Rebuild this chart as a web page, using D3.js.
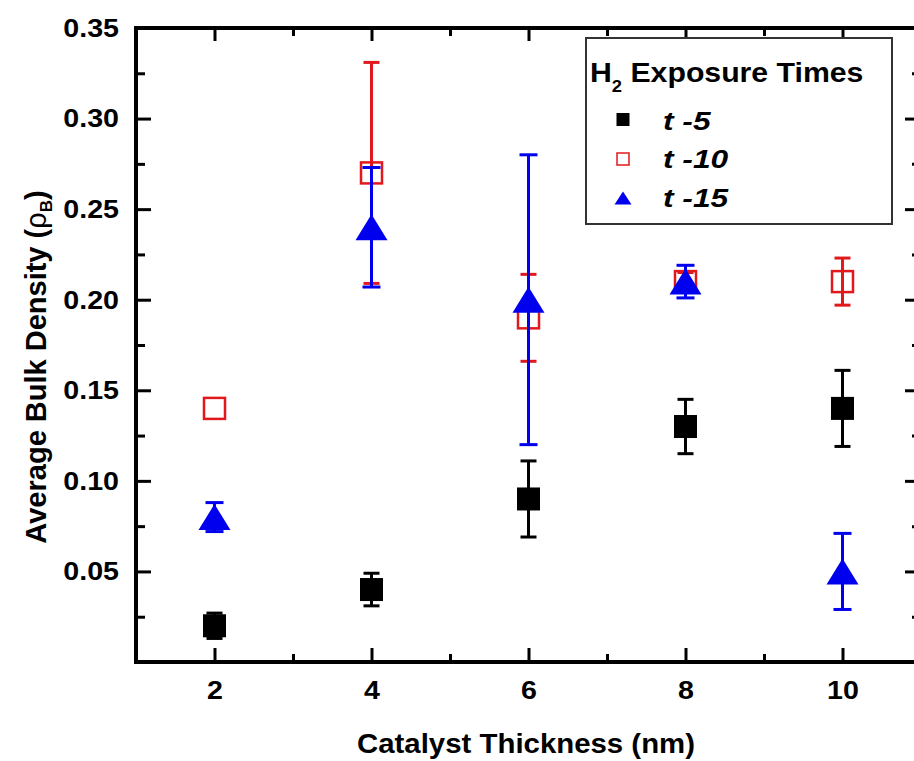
<!DOCTYPE html>
<html>
<head>
<meta charset="utf-8">
<script src="https://cdn.jsdelivr.net/npm/d3@7"></script>
<style>
  html, body { margin: 0; padding: 0; background: #fff; }
  svg { display: block; }
  text { font-family: "Liberation Sans", Arial, sans-serif; font-weight: bold; fill: #000; }
</style>
</head>
<body>
<svg id="chart" width="914" height="761"></svg>
<script>
// ---- data ----
const thickness = [2, 4, 6, 8, 10];
const t5 = [0.02, 0.04, 0.09, 0.13, 0.14];
const t5err = [0.007, 0.009, 0.021, 0.015, 0.021];
const t10 = [0.14, 0.27, 0.19, 0.21, 0.21];
const t10err = [0, 0.061, 0.024, 0.005, 0.013];
const t15 = [0.08, 0.24, 0.20, 0.21, 0.05];
const t15err = [0.008, 0.033, 0.08, 0.009, 0.021];
const xTicks = [2, 4, 6, 8, 10];
const xMinor = [3, 5, 7, 9];
const yTicks = [0.05, 0.10, 0.15, 0.20, 0.25, 0.30, 0.35];
const yTickLabels = ["0.05", "0.10", "0.15", "0.20", "0.25", "0.30", "0.35"];
const yMinor = [0.025, 0.075, 0.125, 0.175, 0.225, 0.275, 0.325];
const legendTitle = "Exposure Times";
const seriesNames = ["t -5", "t -10", "t -15"];
const xTitle = "Catalyst Thickness (nm)";
const yTitle = "Average Bulk Density (";

const svg = d3.select("#chart");
const L = 136, R = 921, T = 28, B = 662;
const x = d3.scaleLinear().domain([1, 11]).range([L, R]);
const y = d3.scaleLinear().domain([0, 0.35]).range([B, T]);

const RED = "#e2191c", BLUE = "#0000ee", BLACK = "#000";

// ---- axes ----
function styleAxis(g, sx) {
  g.select(".domain").remove();
  g.selectAll(".tick line").attr("stroke", "#000").attr("stroke-width", 3);
  g.selectAll(".tick text").style("font-size", "26px").each(function () {
    const t = d3.select(this);
    const xx = +t.attr("x") || 0;
    t.attr("x", 0).attr("transform", `translate(${xx},0) scale(${sx},1)`);
  });
}
// bottom
svg.append("g").attr("transform", `translate(0,${B})`)
  .call(d3.axisBottom(x).tickValues(xTicks).tickSize(-14).tickPadding(19).tickFormat(d3.format("d")))
  .call(g => styleAxis(g, 1.1));
svg.append("g").attr("transform", `translate(0,${B})`)
  .call(d3.axisBottom(x).tickValues(xMinor).tickSize(-8).tickFormat(""))
  .call(g => styleAxis(g, 1));
// top
svg.append("g").attr("transform", `translate(0,${T})`)
  .call(d3.axisTop(x).tickValues(xTicks).tickSize(-13).tickFormat(""))
  .call(g => styleAxis(g, 1));
svg.append("g").attr("transform", `translate(0,${T})`)
  .call(d3.axisTop(x).tickValues(xMinor).tickSize(-8).tickFormat(""))
  .call(g => styleAxis(g, 1));
// left
svg.append("g").attr("transform", `translate(${L},0)`)
  .call(d3.axisLeft(y).tickValues(yTicks).tickSize(-15).tickPadding(17).tickFormat((d, i) => yTickLabels[i]))
  .call(g => styleAxis(g, 1.1));
svg.append("g").attr("transform", `translate(${L},0)`)
  .call(d3.axisLeft(y).tickValues(yMinor).tickSize(-9).tickFormat(""))
  .call(g => styleAxis(g, 1));
// right
svg.append("g").attr("transform", `translate(${R},0)`)
  .call(d3.axisRight(y).tickValues(yTicks).tickSize(-16).tickFormat(""))
  .call(g => styleAxis(g, 1));
svg.append("g").attr("transform", `translate(${R},0)`)
  .call(d3.axisRight(y).tickValues(yMinor).tickSize(-9).tickFormat(""))
  .call(g => styleAxis(g, 1));

// frame
svg.append("rect").attr("x", L).attr("y", T).attr("width", R - L).attr("height", B - T)
  .attr("fill", "none").attr("stroke", "#000").attr("stroke-width", 4);

// ---- series ----
function errorBars(vals, errs, color, capW) {
  const g = svg.append("g").attr("stroke", color).attr("stroke-width", 3).attr("fill", "none");
  thickness.forEach((t, i) => {
    if (!errs[i]) return;
    const cx = x(t), y1 = y(vals[i] + errs[i]), y2 = y(vals[i] - errs[i]);
    g.append("line").attr("x1", cx).attr("x2", cx).attr("y1", y1).attr("y2", y2);
    g.append("line").attr("x1", cx - capW / 2).attr("x2", cx + capW / 2).attr("y1", y1).attr("y2", y1);
    g.append("line").attr("x1", cx - capW / 2).attr("x2", cx + capW / 2).attr("y1", y2).attr("y2", y2);
  });
}
const triPath = (w, h) => `M0,${-h / 2}L${w / 2},${h / 2}L${-w / 2},${h / 2}Z`;

// t-5 black squares
errorBars(t5, t5err, BLACK, 16);
svg.append("g").selectAll("rect").data(thickness).join("rect")
  .attr("x", (d) => x(d) - 11.5).attr("y", (d, i) => y(t5[i]) - 11.5)
  .attr("width", 23).attr("height", 23).attr("fill", BLACK);

// t-10 red open squares
errorBars(t10, t10err, RED, 16);
svg.append("g").selectAll("rect").data(thickness).join("rect")
  .attr("x", (d) => x(d) - 10.5).attr("y", (d, i) => y(t10[i]) - 10.5)
  .attr("width", 21).attr("height", 21).attr("fill", "none")
  .attr("stroke", RED).attr("stroke-width", 2.5);

// t-15 blue triangles
errorBars(t15, t15err, BLUE, 18);
svg.append("g").selectAll("path").data(thickness).join("path")
  .attr("d", triPath(32, 26))
  .attr("transform", (d, i) => `translate(${x(d)},${y(t15[i])})`)
  .attr("fill", BLUE);

// ---- legend ----
const lg = svg.append("g");
lg.append("rect").attr("x", 586).attr("y", 38).attr("width", 306).attr("height", 186)
  .attr("fill", "#fff").attr("stroke", "#333").attr("stroke-width", 2);
const lt = lg.append("text").attr("transform", "translate(590,82) scale(1.08,1)").style("font-size", "28px");
lt.append("tspan").text("H");
lt.append("tspan").attr("dy", 10).style("font-size", "17px").text("2");
lt.append("tspan").attr("dy", -10).text(" " + legendTitle);

const legY = [119.5, 159, 198];
const legBase = [130, 168, 207];
lg.append("rect").attr("x", 623 - 6.5).attr("y", legY[0] - 6.5).attr("width", 13).attr("height", 13).attr("fill", BLACK);
lg.append("rect").attr("x", 623 - 6).attr("y", legY[1] - 6).attr("width", 12).attr("height", 12)
  .attr("fill", "none").attr("stroke", RED).attr("stroke-width", 1.5);
lg.append("path").attr("d", triPath(17, 13)).attr("transform", `translate(623,${legY[2]})`).attr("fill", BLUE);
seriesNames.forEach((s, i) => {
  lg.append("text").attr("transform", `translate(663,${legBase[i]}) scale(1.22,1)`)
    .style("font-size", "26px").style("font-style", "italic").text(s);
});

// ---- axis titles ----
svg.append("text").attr("transform", "translate(526,753) scale(1.05,1)")
  .attr("text-anchor", "middle").style("font-size", "28px").text(xTitle);

const yt = svg.append("text").attr("transform", "translate(46,367) rotate(-90)")
  .attr("text-anchor", "middle").style("font-size", "29px");
yt.append("tspan").text(yTitle);
yt.append("tspan").style("font-weight", "normal").text("ρ");
yt.append("tspan").attr("dy", 6).style("font-size", "17px").text("B");
yt.append("tspan").attr("dy", -6).text(")");
</script>
</body>
</html>
